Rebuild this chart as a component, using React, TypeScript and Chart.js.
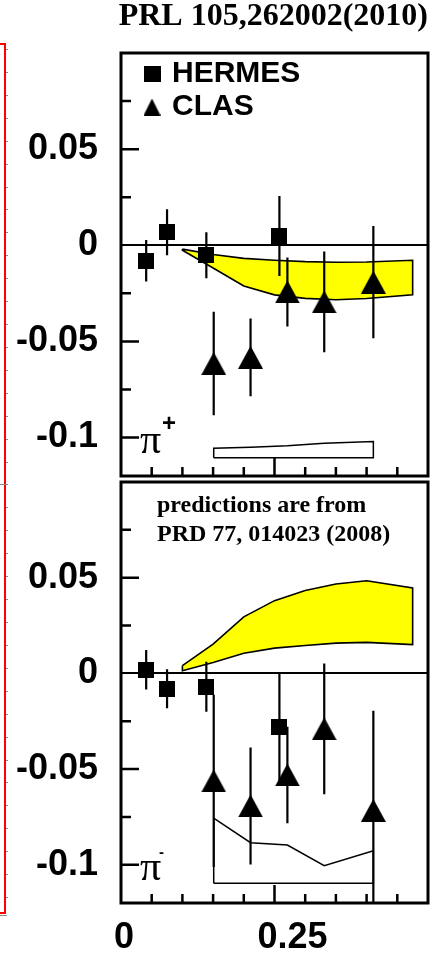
import React, { useEffect, useRef } from "react";
import { Chart, registerables } from "chart.js";

Chart.register(...registerables);

// ---- axes ----
const xTickValues = [0, 0.05, 0.1, 0.15, 0.2, 0.25, 0.3, 0.35, 0.4, 0.45, 0.5];
const xLabelValues = [0, 0.25];
const xLabelTexts = ["0", "   0.25"];
const yTickValues = [-0.1, -0.075, -0.05, -0.025, 0, 0.025, 0.05, 0.075];
const yLabelValues = [0.05, 0, -0.05, -0.1];
const yLabelTexts = ["0.05", "0", "-0.05", "-0.1"];

// ---- HERMES (squares) ----
const hermesX = [0.041, 0.075, 0.139, 0.258];
const hermesPiPlus = [-0.008, 0.0068, -0.0052, 0.0048];
const hermesPiPlusErr = [0.0108, 0.012, 0.012, 0.0208];
const hermesPiMinus = [0.0019, -0.008, -0.007, -0.0282];
const hermesPiMinusErr = [0.0103, 0.0102, 0.0131, 0.0282];

// ---- CLAS (triangles) ----
const clasX = [0.151, 0.211, 0.271, 0.331, 0.411];
const clasPiPlus = [-0.0615, -0.0583, -0.0243, -0.0295, -0.0192];
const clasPiPlusErr = [0.0269, 0.0202, 0.018, 0.0262, 0.0292];
const clasPiMinus = [-0.0562, -0.0693, -0.0531, -0.029, -0.0716];
const clasPiMinusErr = [0.045, 0.0306, 0.0252, 0.0342, 0.052];

// CLAS systematic uncertainty bands (drawn from a base line)
const sysPiPlusBase = -0.1105;
const sysPiPlus = [0.0049, 0.0055, 0.0062, 0.0075, 0.0084];
const sysPiMinusBase = -0.1097;
const sysPiMinus = [0.034, 0.0212, 0.02, 0.0092, 0.017];

// ---- model prediction bands (PRD 77, 014023) ----
const bandX = [0.1, 0.15, 0.2, 0.25, 0.3, 0.35, 0.4, 0.475];
const bandPiPlusHigh = [-0.002, -0.0048, -0.0068, -0.0078, -0.0085, -0.0088, -0.0087, -0.0078];
const bandPiPlusLow = [-0.0026, -0.0118, -0.0212, -0.0258, -0.0276, -0.0283, -0.0277, -0.0257];
const bandPiMinusHigh = [0.004, 0.0153, 0.0295, 0.038, 0.0433, 0.0467, 0.0484, 0.0446];
const bandPiMinusLow = [0.0014, 0.0057, 0.0105, 0.0132, 0.0146, 0.0158, 0.0162, 0.015];

const SANS = "'Liberation Sans', Arial, sans-serif";
const SERIF = "'Liberation Serif', 'Times New Roman', serif";

const near = (a: number, b: number) => Math.abs(a - b) < 1e-9;
const labelOf = (v: number, vals: number[], texts: string[]) => {
  const i = vals.findIndex((u) => near(u, v));
  return i >= 0 ? texts[i] : "";
};

function errorSegments(xs: number[], ys: number[], es: number[]) {
  const pts: any[] = [];
  xs.forEach((x, i) => {
    pts.push({ x, y: ys[i] - es[i] }, { x, y: ys[i] + es[i] }, { x, y: null });
  });
  return pts;
}

function closedBand(xs: number[], hi: number[], lo: number[]) {
  const upper = xs.map((x, i) => ({ x, y: hi[i] }));
  const lower = xs.map((x, i) => ({ x, y: lo[i] })).reverse();
  return [...upper, ...lower, upper[0]];
}

function sysBox(xs: number[], base: number, h: number[]) {
  const top = xs.map((x, i) => ({ x, y: base + h[i] }));
  return [{ x: xs[0], y: base }, ...top, { x: xs[xs.length - 1], y: base }, { x: xs[0], y: base }];
}

function squareImg(w: number, h: number) {
  const c = document.createElement("canvas");
  c.width = w;
  c.height = h;
  const g = c.getContext("2d")!;
  g.fillStyle = "#000";
  g.fillRect(0, 0, w, h);
  return c;
}

function triangleImg(w: number, h: number) {
  const c = document.createElement("canvas");
  c.width = w;
  c.height = h;
  const g = c.getContext("2d")!;
  g.fillStyle = "#000";
  g.beginPath();
  g.moveTo(w / 2, 0);
  g.lineTo(w, h);
  g.lineTo(0, h);
  g.closePath();
  g.fill();
  return c;
}

type Panel = {
  top: boolean;
  sign: string;
  hermesY: number[];
  hermesE: number[];
  clasY: number[];
  clasE: number[];
  bandHi: number[];
  bandLo: number[];
  sysBase: number;
  sysH: number[];
};

const panels: Panel[] = [
  {
    top: true,
    sign: "+",
    hermesY: hermesPiPlus,
    hermesE: hermesPiPlusErr,
    clasY: clasPiPlus,
    clasE: clasPiPlusErr,
    bandHi: bandPiPlusHigh,
    bandLo: bandPiPlusLow,
    sysBase: sysPiPlusBase,
    sysH: sysPiPlus,
  },
  {
    top: false,
    sign: "-",
    hermesY: hermesPiMinus,
    hermesE: hermesPiMinusErr,
    clasY: clasPiMinus,
    clasE: clasPiMinusErr,
    bandHi: bandPiMinusHigh,
    bandLo: bandPiMinusLow,
    sysBase: sysPiMinusBase,
    sysH: sysPiMinus,
  },
];

// frame + inward tick marks
const framePlugin = {
  id: "panelFrame",
  afterDraw(chart: any) {
    const { ctx, chartArea: a, scales } = chart;
    ctx.save();
    ctx.strokeStyle = "#000";
    ctx.lineWidth = 2.5;
    ctx.beginPath();
    yTickValues.forEach((v) => {
      const p = scales.y.getPixelForValue(v);
      if (p <= a.top + 1 || p >= a.bottom - 1 || near(v, 0)) return;
      const len = yLabelValues.some((u) => near(u, v)) ? 18 : 10;
      ctx.moveTo(a.left, p);
      ctx.lineTo(a.left + len, p);
    });
    xTickValues.forEach((v) => {
      const p = scales.x.getPixelForValue(v);
      if (p <= a.left + 1 || p >= a.right - 1) return;
      const len = xLabelValues.some((u) => near(u, v)) ? 18 : 9;
      ctx.moveTo(p, a.bottom);
      ctx.lineTo(p, a.bottom - len);
    });
    ctx.stroke();
    ctx.lineWidth = 3;
    ctx.strokeRect(a.left, a.top, a.right - a.left, a.bottom - a.top);
    ctx.restore();
  },
};

function makePanel(canvas: HTMLCanvasElement, p: Panel) {
  const sq = squareImg(16, 16);
  const tri = triangleImg(25, 23);
  const legSq = squareImg(17, 16);
  const legTri = triangleImg(17, 17);

  const labelsPlugin = {
    id: "panelLabels",
    afterDraw(chart: any) {
      const { ctx, chartArea: a } = chart;
      ctx.save();
      ctx.fillStyle = "#000";
      // pion charge label
      ctx.font = `42px ${SERIF}`;
      ctx.textAlign = "left";
      ctx.textBaseline = "alphabetic";
      ctx.fillText("π", a.left + 19, a.bottom - 23);
      ctx.textBaseline = "middle";
      if (p.top) {
        ctx.font = `bold 24px ${SANS}`;
        ctx.fillText("+", a.left + 41, a.bottom - 52);
        // legend
        const items = [
          { img: legSq, text: chart.data.datasets[0].label, dy: 21 },
          { img: legTri, text: chart.data.datasets[1].label, dy: 54 },
        ];
        ctx.font = `bold 30px ${SANS}`;
        items.forEach((it) => {
          ctx.drawImage(it.img, a.left + 31 - it.img.width / 2, a.top + it.dy - it.img.height / 2);
          ctx.fillText(it.text, a.left + 51, a.top + it.dy);
        });
      } else {
        ctx.font = `bold 15px ${SANS}`;
        ctx.fillText("-", a.left + 38, a.bottom - 50);
        ctx.textBaseline = "alphabetic";
        ctx.font = `bold 24px ${SERIF}`;
        ctx.fillText("predictions are from", a.left + 36, a.top + 30);
        ctx.fillText("PRD 77, 014023 (2008)", a.left + 36, a.top + 59);
      }
      ctx.restore();
    },
  };

  const tickFont = { family: SANS, size: 36, weight: "bold" as const };

  return new Chart(canvas, {
    type: "scatter",
    data: {
      datasets: [
        {
          type: "scatter",
          label: "HERMES",
          data: hermesX.map((x, i) => ({ x, y: p.hermesY[i] })),
          pointStyle: sq as any,
          pointRadius: 8,
          order: 0,
        },
        {
          type: "scatter",
          label: "CLAS",
          data: clasX.map((x, i) => ({ x, y: p.clasY[i] })),
          pointStyle: tri as any,
          pointRadius: 8,
          order: 0,
        },
        {
          type: "line",
          label: "HERMES errors",
          data: errorSegments(hermesX, p.hermesY, p.hermesE),
          borderColor: "#000",
          borderWidth: 2.2,
          pointRadius: 0,
          spanGaps: false,
          fill: false,
          clip: 0,
          order: 1,
        },
        {
          type: "line",
          label: "CLAS errors",
          data: errorSegments(clasX, p.clasY, p.clasE),
          borderColor: "#000",
          borderWidth: 2.2,
          pointRadius: 0,
          spanGaps: false,
          fill: false,
          clip: 0,
          order: 1,
        },
        {
          type: "line",
          label: "prediction",
          data: closedBand(bandX, p.bandHi, p.bandLo),
          borderColor: "#000",
          borderWidth: 1.6,
          backgroundColor: "#ffff00",
          pointRadius: 0,
          fill: "shape",
          tension: 0,
          order: 2,
        },
        {
          type: "line",
          label: "CLAS systematics",
          data: sysBox(clasX, p.sysBase, p.sysH),
          borderColor: "#000",
          borderWidth: 1.5,
          backgroundColor: p.top ? "#ffffff" : "rgba(255,255,255,0)",
          pointRadius: 0,
          fill: p.top ? "shape" : false,
          tension: 0,
          order: 3,
        },
      ] as any,
    },
    options: {
      responsive: false,
      animation: false,
      devicePixelRatio: 1,
      events: [],
      layout: {
        autoPadding: false,
        padding: p.top ? { left: 0, right: 16, top: 0, bottom: 4 } : { left: 0, right: 16, top: 4, bottom: 0 },
      },
      plugins: {
        legend: { display: false },
        tooltip: { enabled: false },
        title: {
          display: p.top,
          text: "PRL 105,262002(2010)",
          align: "end",
          color: "#000",
          font: { family: SERIF, size: 32, weight: "bold", lineHeight: 1 },
          padding: { top: 1, bottom: 20 },
        },
      },
      scales: {
        x: {
          type: "linear",
          min: 0,
          max: 0.5,
          afterBuildTicks: (s: any) => {
            s.ticks = xTickValues.map((value) => ({ value }));
          },
          afterFit: (s: any) => {
            s.height = p.top ? 0 : 55;
            s.paddingLeft = 0;
            s.paddingRight = 0;
          },
          grid: { display: false, drawTicks: false },
          border: { display: false },
          ticks: {
            display: !p.top,
            autoSkip: false,
            maxRotation: 0,
            minRotation: 0,
            padding: 13,
            labelOffset: 3,
            color: "#000",
            font: tickFont,
            callback: (v: any) => labelOf(Number(v), xLabelValues, xLabelTexts),
          },
        },
        y: {
          type: "linear",
          min: -0.12,
          max: 0.1,
          afterBuildTicks: (s: any) => {
            s.ticks = yTickValues.map((value) => ({ value }));
          },
          afterFit: (s: any) => {
            s.width = 121;
            s.paddingTop = 0;
            s.paddingBottom = 0;
          },
          grid: {
            drawTicks: false,
            lineWidth: 2,
            color: (c: any) => (c.tick && near(c.tick.value, 0) ? "#000" : "rgba(0,0,0,0)"),
          },
          border: { display: false },
          ticks: {
            autoSkip: false,
            padding: 23,
            color: "#000",
            font: tickFont,
            callback: (v: any) => labelOf(Number(v), yLabelValues, yLabelTexts),
          },
        },
      },
    } as any,
    plugins: [framePlugin, labelsPlugin],
  });
}

export default function App() {
  const topRef = useRef<HTMLCanvasElement>(null);
  const botRef = useRef<HTMLCanvasElement>(null);

  useEffect(() => {
    const charts = [makePanel(topRef.current!, panels[0]), makePanel(botRef.current!, panels[1])];
    return () => charts.forEach((c) => c.destroy());
  }, []);

  const sideTicks = Array.from({ length: 38 }, (_, i) => 49 + i * 22.92);

  return (
    <div
      style={{
        position: "fixed",
        left: 0,
        top: 0,
        width: 444,
        height: 958,
        background: "#fff",
        overflow: "hidden",
      }}
    >
      <canvas
        ref={topRef}
        width={444}
        height={480}
        style={{ position: "absolute", left: 0, top: 0, width: 444, height: 480 }}
      />
      <canvas
        ref={botRef}
        width={444}
        height={480}
        style={{ position: "absolute", left: 0, top: 478, width: 444, height: 480 }}
      />
      {/* edge of the neighbouring frame */}
      <div
        style={{
          position: "absolute",
          left: 0,
          top: 43,
          width: 5.5,
          height: 871,
          borderTop: "2px solid #f00",
          borderRight: "2px solid #f00",
          borderBottom: "2px solid #f00",
          boxSizing: "border-box",
        }}
      />
      {sideTicks.map((y, i) => (
        <div
          key={i}
          style={{ position: "absolute", left: 5.5, top: y, width: 2, height: 1, background: "#888" }}
        />
      ))}
      <div style={{ position: "absolute", left: 0, top: 484, width: 7, height: 1, background: "#888" }} />
      <div style={{ position: "absolute", left: 0, top: 914.5, width: 7, height: 1.5, background: "#888" }} />
    </div>
  );
}
